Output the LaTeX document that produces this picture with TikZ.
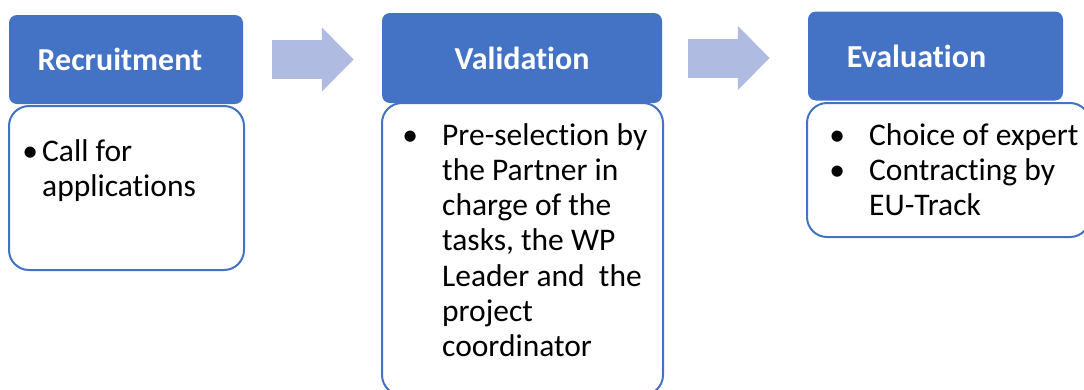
\documentclass[tikz,border=0pt]{standalone}
\usepackage{fontspec}
\setmainfont{Carlito}[Ligatures=NoCommon, Contextuals=NoAlternate]
\usepackage{tikz}
\usetikzlibrary{arrows.meta, positioning}
\definecolor{headblue}{RGB}{68,114,196}
\definecolor{arrowblue}{RGB}{175,187,224}

\begin{document}
\begin{tikzpicture}[x=1pt, y=-1pt]
\tikzstyle{every node}=[inner sep=0pt];
\tikzstyle{head}=[rectangle, rounded corners=8pt, fill=headblue, text=white, font=\bfseries\fontsize{32}{37}\selectfont];
\tikzstyle{body}=[rectangle, rounded corners=20pt, draw=headblue, line width=2pt, fill=white];
\tikzstyle{bullets}=[anchor=base west, font=\fontsize{31.5}{35.3}\selectfont];
\tikzstyle{flow}=[line width=39pt, arrowblue, -{Triangle[length=32pt, width=62pt]}];
\useasboundingbox (0,0) rectangle (1084,389);
\node[body, minimum width=235pt, minimum height=164pt] (recruitbody) at (126.5,188) {};
\node[body, minimum width=281pt, minimum height=292pt] (validbody) at (522.5,249) {};
\node[body, minimum width=283pt, minimum height=134pt] (evalbody) at (948.5,170) {};
\node[head, minimum width=234pt, minimum height=89pt] (recruit) at (126,59.5) {\hspace*{-12pt}Recruitment};
\node[head, minimum width=280pt, minimum height=90pt] (valid) at (522,58) {Validation};
\node[head, minimum width=255pt, minimum height=89pt] (evalu) at (935.5,56) {\hspace*{-38pt}Evaluation};
\node[bullets] (recruittext) at (18,161) {\begin{tabular}[t]{@{}l@{}l@{}}
\makebox[24pt]{\textbullet} & Call for\\
 & applications
\end{tabular}};
\node[bullets] (validtext) at (398,145) {\begin{tabular}[t]{@{}l@{\hspace{20pt}}l@{}}
\makebox[24pt]{\textbullet} & Pre-selection by\\
 & the Partner in\\
 & charge of the\\
 & tasks, the WP\\
 & Leader and\ \ the\\
 & project\\
 & coordinator
\end{tabular}};
\node[bullets] (evaltext) at (825,145) {\begin{tabular}[t]{@{}l@{\hspace{20pt}}l@{}}
\makebox[24pt]{\textbullet} & Choice of expert\\
\makebox[24pt]{\textbullet} & Contracting by\\
 & EU-Track
\end{tabular}};
\draw[flow, shorten <=29pt, shorten >=28pt] (recruit.east) -- (recruit.east -| valid.west);
\draw[flow, shorten <=26pt, shorten >=38pt] (valid.east) -- (valid.east -| evalu.west);
\end{tikzpicture}
\end{document}
